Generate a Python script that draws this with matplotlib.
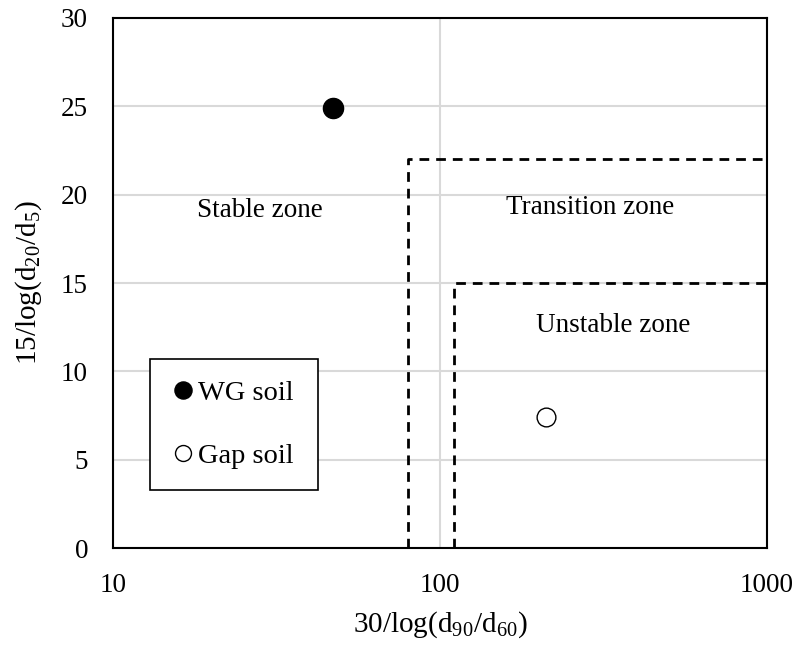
import matplotlib.pyplot as plt
from matplotlib.ticker import FixedLocator, NullLocator, FuncFormatter

plt.rcParams['font.family'] = ['Liberation Serif', 'DejaVu Serif']
plt.rcParams['mathtext.fontset'] = 'custom'
plt.rcParams['mathtext.rm'] = 'Liberation Serif'

# soil points (x = 30/log(d90/d60), y = 15/log(d20/d5))
wg_x, wg_y = [47], [24.9]
gap_x, gap_y = [211], [7.4]

# zone boundaries (dashed polylines)
transition_x = [80, 80, 1000]
transition_y = [0, 22, 22]
unstable_x = [110, 110, 1000]
unstable_y = [0, 15, 15]

x_ticks = [10, 100, 1000]
y_ticks = [0, 5, 10, 15, 20, 25, 30]

fig = plt.figure(figsize=(8.01, 6.52), dpi=100)
ax = fig.add_axes([0.1411, 0.1595, 0.8165, 0.8129])

ax.set_xscale('log')
ax.set_xlim(10, 1000)
ax.set_ylim(0, 30)
ax.xaxis.set_major_locator(FixedLocator(x_ticks))
ax.xaxis.set_minor_locator(NullLocator())
ax.xaxis.set_major_formatter(FuncFormatter(lambda v, p: '%d' % v))
ax.set_yticks(y_ticks)

# light gray grid, behind everything
ax.grid(True, color='#d9d9d9', linewidth=1.5)
ax.set_axisbelow(True)
ax.tick_params(length=0, labelsize=19.5)
ax.tick_params(axis='x', pad=18)
ax.tick_params(axis='y', pad=18)
for s in ax.spines.values():
    s.set_linewidth(1.5)
    s.set_color('black')

ax.plot(transition_x, transition_y, color='black', linestyle=(0, (3.5, 2.5)), linewidth=2)
ax.plot(unstable_x, unstable_y, color='black', linestyle=(0, (3.5, 2.5)), linewidth=2)

ax.plot(wg_x, wg_y, 'o', markersize=14.5, color='black', label='WG soil', zorder=5)
ax.plot(gap_x, gap_y, 'o', markersize=13.5, markerfacecolor='white', markeredgecolor='black',
        markeredgewidth=1, label='Gap soil', zorder=5)

ax.text(28.2, 19.1, 'Stable zone', fontsize=19.5, ha='center', va='center')
ax.text(288, 19.3, 'Transition zone', fontsize=19.5, ha='center', va='center')
ax.text(338, 12.6, 'Unstable zone', fontsize=19.5, ha='center', va='center')

ax.set_xlabel('30/log(d$_{90}$/d$_{60}$)', fontsize=21, labelpad=8)
ax.set_ylabel('15/log(d$_{20}$/d$_{5}$)', fontsize=21, labelpad=12)

# legend box stretched to a fixed width
leg = ax.legend(loc='lower left', bbox_to_anchor=(0.0566, 0.109, 0.257, 0.24), mode='expand',
                fontsize=20.5, markerscale=0.85, handlelength=0.85, handletextpad=0.1,
                labelspacing=1.3, borderpad=0.75, borderaxespad=0,
                fancybox=False, framealpha=1, edgecolor='black')
leg.get_frame().set_linewidth(1.2)

fig.savefig('out.png', dpi=100)
